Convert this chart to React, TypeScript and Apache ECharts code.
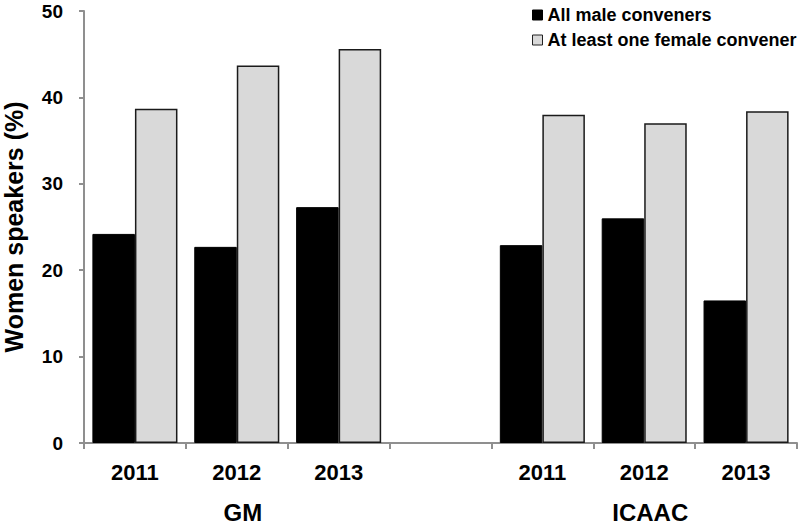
import React, { useEffect, useRef } from "react";
import * as echarts from "echarts";

const categories = ["2011", "2012", "2013", "", "2011", "2012", "2013"];
const groupLabels = ["", "GM", "", "", "", "ICAAC", ""];
const allMale = [24.2, 22.7, 27.3, null, 22.9, 26.0, 16.5];
const femaleConvener = [38.7, 43.7, 45.6, null, 38.0, 37.0, 38.4];
const seriesNames = ["All male conveners", "At least one female convener"];
const yTicks = { min: 0, max: 50, interval: 10 };

const FONT = "'Liberation Sans', Arial, Helvetica, sans-serif";
const AXIS_GRAY = "#8f8f8f";

export default function App() {
  const ref = useRef<HTMLDivElement>(null);
  useEffect(() => {
    if (!ref.current) return;
    const chart = echarts.init(ref.current, null, { renderer: "svg" });
    chart.setOption({
      animation: false,
      backgroundColor: "#ffffff",
      textStyle: { fontFamily: FONT },
      grid: { left: 84, right: 3, top: 11, bottom: 88, containLabel: false, outerBoundsMode: "none" },
      legend: {
        orient: "vertical",
        left: 527,
        top: 1,
        itemWidth: 10,
        itemHeight: 10,
        itemGap: 7,
        icon: "rect",
        textStyle: { fontFamily: FONT, fontWeight: "bold", fontSize: 18, color: "#000" },
        data: [
          { name: seriesNames[0], itemStyle: { color: "#000", borderColor: "#000", borderWidth: 1 } },
          { name: seriesNames[1], itemStyle: { color: "#d9d9d9", borderColor: "#222", borderWidth: 1 } },
        ],
      },
      xAxis: [
        {
          type: "category",
          data: categories,
          axisLine: { lineStyle: { color: AXIS_GRAY, width: 2 } },
          axisTick: { show: true, interval: 0, length: 6, lineStyle: { color: AXIS_GRAY, width: 2 } },
          axisLabel: { interval: 0, margin: 18, fontFamily: FONT, fontWeight: "bold", fontSize: 22, color: "#000" },
        },
        {
          type: "category",
          data: groupLabels,
          position: "bottom",
          axisLine: { show: false },
          axisTick: { show: false },
          axisLabel: { interval: 0, margin: 57, padding: [0, 0, 0, 12], fontFamily: FONT, fontWeight: "bold", fontSize: 24, color: "#000" },
        },
      ],
      yAxis: {
        type: "value",
        min: yTicks.min,
        max: yTicks.max,
        interval: yTicks.interval,
        name: "Women speakers (%)",
        nameLocation: "middle",
        nameGap: 58,
        nameTextStyle: { fontFamily: FONT, fontWeight: "bold", fontSize: 25, color: "#000" },
        axisLine: { show: true, lineStyle: { color: AXIS_GRAY, width: 2 } },
        axisTick: { show: true, length: 5, lineStyle: { color: AXIS_GRAY, width: 2 } },
        splitLine: { show: false },
        axisLabel: { margin: 21, fontFamily: FONT, fontWeight: "bold", fontSize: 19, color: "#000" },
      },
      series: [
        {
          name: seriesNames[0],
          type: "bar",
          data: allMale,
          barGap: "0%",
          barCategoryGap: "16.5%",
          itemStyle: { color: "#000", borderColor: "#000", borderWidth: 1 },
        },
        {
          name: seriesNames[1],
          type: "bar",
          data: femaleConvener,
          barGap: "0%",
          barCategoryGap: "16.5%",
          itemStyle: { color: "#d9d9d9", borderColor: "#1a1a1a", borderWidth: 1.5 },
        },
      ],
    });
    return () => chart.dispose();
  }, []);
  return <div ref={ref} style={{ width: 800, height: 531, position: "absolute", left: 0, top: 0 }} />;
}
